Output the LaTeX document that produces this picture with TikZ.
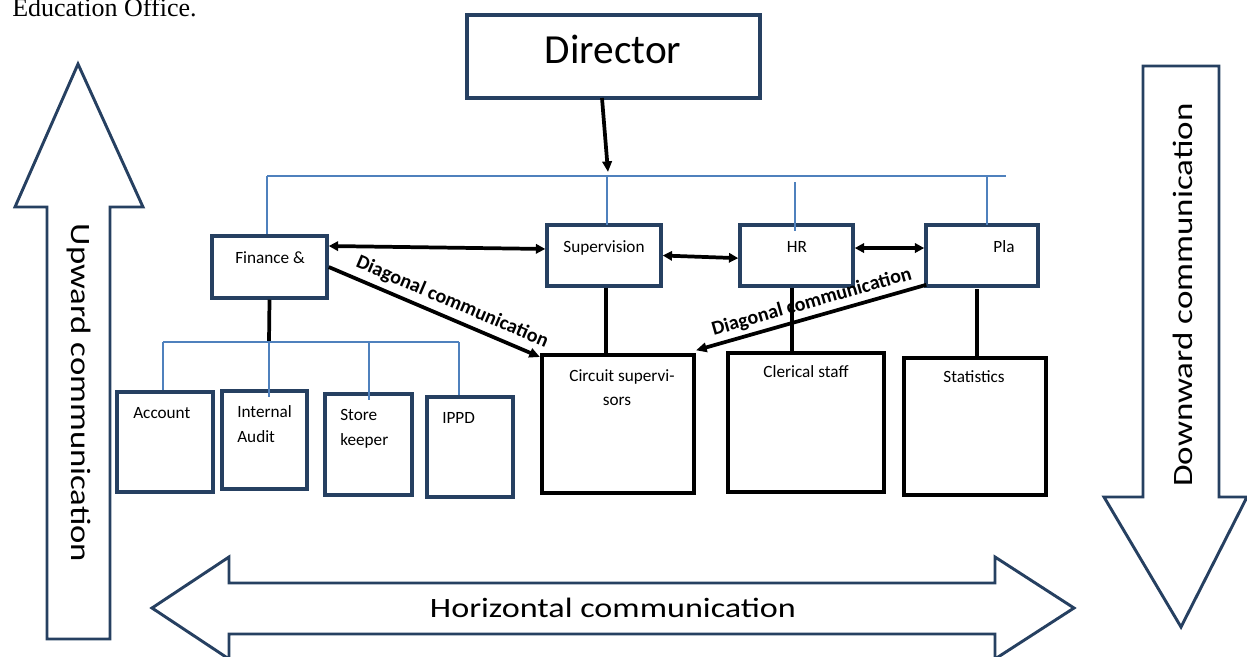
\documentclass[tikz,border=0pt]{standalone}
\usepackage{fontspec}
\usepackage{graphicx}
\setmainfont{Carlito}
\newfontfamily\headserif{Liberation Serif}
\usetikzlibrary{arrows.meta,calc}

\definecolor{navy}{RGB}{38,64,97}
\definecolor{busblue}{RGB}{79,129,189}

\tikzset{
  sz/.style 2 args={minimum width=#1*0.75pt, minimum height=#2*0.75pt},
  box/.style={draw=navy, line width=2.6pt, inner sep=0pt},
  lowbox/.style={draw=black, line width=3pt, inner sep=0pt},
  lbl/.style={font=\fontsize{12.9}{18.75}\selectfont, inner sep=0pt},
  biglbl/.style={font=\fontsize{21}{24}\selectfont, inner sep=0pt},
  diaglbl/.style={font=\fontsize{15}{18}\selectfont\bfseries, inner sep=0pt},
  conn/.style={draw=black, line width=2.8pt},
  bus/.style={draw=busblue, line width=1.3pt},
  bigarrow/.style={draw=navy, line width=2.2pt, fill=white, line join=miter},
  arr/.style={-{Triangle[length=8pt,width=7pt]}},
  darr/.style={{Triangle[length=7pt,width=7pt]}-{Triangle[length=7pt,width=7pt]}},
}

\begin{document}
\begin{tikzpicture}[x=0.75pt,y=-0.75pt]
\useasboundingbox (0,0) rectangle (1247,657);

% caption line above the chart
\node[anchor=base west, inner sep=0pt, font=\headserif\fontsize{19.5}{22}\selectfont] (cap) at (12,16) {Education Office.};

% large communication arrows
\draw[bigarrow] (47,639) -- (47,207) -- (15,207) -- (78,64) -- (143,207) -- (110,207) -- (110,639) -- cycle;
\node[biglbl, rotate=-90] (upT) at (79,393) {\scalebox{1.24}[1]{Upward communication}};

\draw[bigarrow] (1143,66) -- (1219,66) -- (1219,497) -- (1247,497) -- (1181,627) -- (1104,497) -- (1143,497) -- cycle;
\node[biglbl, rotate=90] (downT) at (1183,295) {\scalebox{1.25}[1]{Downward communication}};

\draw[bigarrow] (152,608) -- (229,557) -- (229,583) -- (995,583) -- (995,557) -- (1074,608)
  -- (995,659) -- (995,634) -- (229,634) -- (229,659) -- cycle;
\node[biglbl, anchor=base] (horT) at (613,617) {\scalebox{1.22}[1]{Horizontal communication}};

% top of the hierarchy
\node[box, sz={293}{83}] (dir) at (613.5,56.5) {};
\node[anchor=base, inner sep=0pt, font=\fontsize{31}{36}\selectfont] (dirT) at (613,63) {Director};

% blue distribution bus below the director
\coordinate (busL) at (267,176);
\coordinate (busR) at (1006,176);
\coordinate (busJ) at (608,172);
\draw[bus] (busL) -- (busR);

% second level units
\node[box, sz={115}{62}] (fin) at (269.5,267) {};
\node[box, sz={114}{61}] (sup) at (604,255.5) {};
\node[box, sz={113}{61}] (hr)  at (796.5,255.5) {};
\node[box, sz={112}{61}] (pla) at (982,255.5) {};

\node[lbl, anchor=base west] (finT) at (235,263) {Finance \&};
\node[lbl, anchor=base] (supT) at (604,252) {Supervision};
\node[lbl, anchor=base] (hrT) at (797,252) {HR};
\node[lbl, anchor=base] (plaT) at (1004,252) {Pla};

% finance sub-units
\node[box, sz={96}{100}] (acc)  at (165,442) {};
\node[box, sz={85}{98}]  (ia)   at (264.5,440) {};
\node[box, sz={87}{101}] (sk)   at (368.5,444.5) {};
\node[box, sz={86}{100}] (ippd) at (470,447) {};

\node[lbl, anchor=base west] (accT) at (133,418) {Account};
\node[lbl, anchor=base west] (iaT1) at (237,417) {Internal};
\node[lbl, anchor=base west] (iaT2) at (237,442) {Audit};
\node[lbl, anchor=base west] (skT1) at (340,420) {Store};
\node[lbl, anchor=base west] (skT2) at (340,445) {keeper};
\node[lbl, anchor=base west] (ippdT) at (442,423) {IPPD};

% third level units
\node[lowbox, sz={152}{138}] (cs) at (618,424) {};
\node[lowbox, sz={156}{139}] (cl) at (806,422.5) {};
\node[lowbox, sz={142}{137}] (st) at (975,426.5) {};

\node[lbl, anchor=base] (csT1) at (622,381) {Circuit supervi-};
\node[lbl, anchor=base] (csT2) at (617,405) {sors};
\node[lbl, anchor=base] (clT) at (806,377) {Clerical staff};
\node[lbl, anchor=base] (stT) at (974,382) {Statistics};

% director to bus
\draw[conn, arr] (602,98) -- (busJ);

% bus drops to the units
\draw[bus] (busL) -- (busL |- fin.north);
\draw[bus] (607,176) -- (607,225);
\draw[bus] (795,182) -- (795,231);
\draw[bus] (987,176) -- (987,225);

% finance sub-bus
\coordinate (finBus) at (269,342);
\coordinate (sbL) at (163,342);
\coordinate (sbR) at (459,342);
\draw[conn] (fin.south) -- (finBus);
\draw[bus] (sbL) -- (sbR);
\draw[bus] (sbL) -- (sbL |- acc.north);
\draw[bus] (finBus) -- (269,397);
\draw[bus] (369,342) -- (369,400);
\draw[bus] (sbR) -- (sbR |- ippd.north);

% horizontal links between second level units
\draw[conn, darr] ([yshift=15.75pt]fin.east) -- ([yshift=4.9pt]sup.west);
\draw[conn, darr] (sup.east) -- ([yshift=-2pt]hr.west);
\draw[conn, darr] ([yshift=5.6pt]hr.east) -- ([yshift=5.6pt]pla.west);

% vertical links down to the third level
\coordinate (vxA) at (606,0);
\coordinate (vxB) at (792,0);
\coordinate (vxC) at (977,289);
\draw[conn] (sup.south -| vxA) -- (cs.north -| vxA);
\draw[conn] (hr.south -| vxB) -- (cl.north -| vxB);
\draw[conn] (vxC) -- (st.north -| vxC);

% diagonal links
\draw[conn, arr] (fin.east) -- ([yshift=-3pt]cs.north west)
  node[diaglbl, pos=0.555, above=4pt, sloped] (dg1) {Diagonal communication};
\draw[conn, {Triangle[length=8pt,width=7pt]}-] ([yshift=2pt]cs.north east) -- ([xshift=1.5pt,yshift=2.2pt]pla.south west)
  node[diaglbl, pos=0.52, above=3pt, sloped] (dg2) {Diagonal communication};
\end{tikzpicture}
\end{document}
